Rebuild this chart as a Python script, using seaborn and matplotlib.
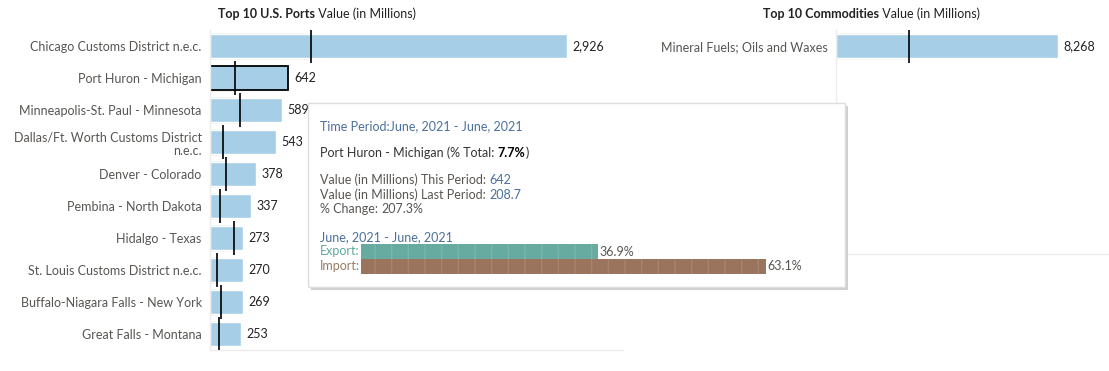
import matplotlib
matplotlib.use("Agg")
import matplotlib.pyplot as plt
import seaborn as sns
import pandas as pd
from matplotlib.patches import Rectangle

# data
ports = ["Chicago Customs District n.e.c.", "Port Huron - Michigan",
         "Minneapolis-St. Paul - Minnesota", "Dallas/Ft. Worth Customs District\nn.e.c.",
         "Denver - Colorado", "Pembina - North Dakota", "Hidalgo - Texas",
         "St. Louis Customs District n.e.c.", "Buffalo-Niagara Falls - New York",
         "Great Falls - Montana"]
port_this = [2926, 642, 589, 543, 378, 337, 273, 270, 269, 253]
port_last = [828, 208.7, 246, 107, 131, 78, 193, 61, 94, 70]

commodities = ["Mineral Fuels; Oils and Waxes"]
comm_this = [8268]
comm_last = [2719]

# tooltip for the hovered port
tip_port = "Port Huron - Michigan"
tip_share_total = 7.7
tip_change = 207.3
flows = ["Export", "Import"]
flow_share = [36.9, 63.1]

W, H = 1109, 371
BLUE = "#a6cee6"
GREY = "#f1f1f1"
LABEL = "#585552"
TIPBLUE = "#4a6f9c"

sns.set_theme(style="white")
plt.rcParams["font.family"] = ["Lato", "DejaVu Sans"]

fig = plt.figure(figsize=(W / 100, H / 100), dpi=100)


def px_axes(x0, y0, x1, y1):
    return fig.add_axes([x0 / W, 1 - y1 / H, (x1 - x0) / W, (y1 - y0) / H])


def draw_panel(ax, names, this, last, nrows, xmax, highlight=None):
    df = pd.DataFrame({"name": names, "this": this, "last": last})
    sns.barplot(data=df, y="name", x="last", order=names, color=GREY,
                width=0.88, saturation=1, ax=ax, zorder=1)
    sns.barplot(data=df, y="name", x="this", order=names, color=BLUE,
                width=0.72, saturation=1, ax=ax, zorder=2)
    bars = ax.containers[1]
    ax.bar_label(bars, labels=[f"{v:,.0f}" for v in this], padding=4,
                 fontsize=9, color="#222222")
    if highlight is not None:
        bars[highlight].set_edgecolor("black")
        bars[highlight].set_linewidth(1.3)
    for i, v in enumerate(last):
        ax.vlines(v, i - 0.52, i + 0.52, color="black", lw=1.2, zorder=4)
    ax.set_xlim(0, xmax)
    ax.set_ylim(nrows - 0.5, -0.5)
    ax.set_xlabel("")
    ax.set_ylabel("")
    ax.set_xticks([])
    ax.tick_params(axis="y", length=0, pad=6, labelsize=9, labelcolor=LABEL)
    for lab in ax.get_yticklabels():
        lab.set_multialignment("right")
    for s in ["top", "right"]:
        ax.spines[s].set_visible(False)
    for s in ["left", "bottom"]:
        ax.spines[s].set_color("#ececec")
        ax.spines[s].set_linewidth(1)


ax1 = px_axes(210, 30, 623, 350)
draw_panel(ax1, ports, port_this, port_last, 10, 3385, highlight=1)

ax2 = px_axes(836, 30, 1109, 254)
draw_panel(ax2, commodities, comm_this, comm_last, 7, 10170)

fig.canvas.draw()
renderer = fig.canvas.get_renderer()


def run_text(x_px, y_px, pieces, size=9):
    # place text pieces one after another on one line
    x = x_px / W
    for txt, color, weight in pieces:
        t = fig.text(x, 1 - y_px / H, txt, color=color, fontsize=size,
                     fontweight=weight, va="center", ha="left", zorder=20)
        bb = t.get_window_extent(renderer=renderer)
        x = bb.x1 / W
    return x * W


run_text(218, 14, [("Top 10 U.S. Ports", "#222222", "bold"),
                   (" Value (in Millions)", "#222222", "normal")], size=9)
run_text(763, 14, [("Top 10 Commodities", "#222222", "bold"),
                   (" Value (in Millions)", "#222222", "normal")], size=9)

# tooltip box with shadow
fig.patches.append(Rectangle((311 / W, 1 - 290 / H), 537 / W, 184 / H,
                             transform=fig.transFigure, facecolor="#d0d0d0",
                             edgecolor="none", zorder=10))
fig.patches.append(Rectangle((308 / W, 1 - 287 / H), 537 / W, 184 / H,
                             transform=fig.transFigure, facecolor="white",
                             edgecolor="#dddddd", lw=1, zorder=11))

k = ports.index(tip_port)
run_text(320, 126, [("Time Period:June, 2021 - June, 2021", TIPBLUE, "normal")])
run_text(320, 153, [(f"{tip_port} (% Total: ", "#333333", "normal"),
                    (f"{tip_share_total}%", "black", "bold"), (")", "#333333", "normal")])
run_text(320, 180, [("Value (in Millions) This Period: ", LABEL, "normal"),
                    (f"{port_this[k]:,.0f}", TIPBLUE, "normal")])
run_text(320, 195, [("Value (in Millions) Last Period: ", LABEL, "normal"),
                    (f"{port_last[k]}", TIPBLUE, "normal")])
run_text(320, 209, [("% Change: ", LABEL, "normal"),
                    (f"{tip_change}%", LABEL, "normal")])
run_text(320, 237, [("June, 2021 - June, 2021", TIPBLUE, "normal")])

flow_colors = ["#67aba0", "#9b745e"]
flow_text = ["#5fa9a0", "#9a7a62"]
ends = []
for i, name in enumerate(flows):
    ends.append(run_text(320, 251 + 15 * i, [(name + ":", flow_text[i], "normal")]))

bx = max(ends) + 1
ax3 = px_axes(bx, 244, bx + 405, 274)
ax3.set_zorder(12)
fdf = pd.DataFrame({"flow": flows, "share": flow_share})
sns.barplot(data=fdf, y="flow", x="share", hue="flow", order=flows,
            palette=flow_colors, width=1.0, saturation=1, legend=False, ax=ax3)
ax3.set_xlim(0, max(flow_share))
ax3.set_ylim(1.5, -0.5)
for c in ax3.containers:
    ax3.bar_label(c, labels=[f"{c.datavalues[0]:.1f}%"], padding=1,
                  fontsize=9, color=LABEL)
    for b in c:
        b.set_hatch("|")
        b.set_edgecolor((1, 1, 1, 0.12))
        b.set_linewidth(0)
        b.set_clip_on(False)
ax3.axis("off")
ax3.patch.set_visible(False)

fig.savefig("out.png", dpi=100)
